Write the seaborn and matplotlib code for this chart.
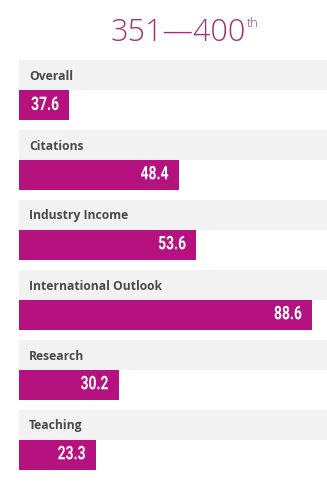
import matplotlib
matplotlib.use("Agg")
import matplotlib.pyplot as plt
import seaborn as sns
import pandas as pd
from matplotlib.patheffects import AbstractPathEffect
from matplotlib.transforms import Affine2D

categories = ["Citations", "Industry Income", "International Outlook", "Research", "Teaching"]
values = [48.4, 53.6, 88.6, 30.2, 23.3]
overall_label = "Overall"
overall_value = 37.6
rank_text = "351\u2014400"
rank_suffix = "th"

sns.set_theme(style="white")
plt.rcParams["font.family"] = ["Open Sans", "DejaVu Sans"]


class Squeeze(AbstractPathEffect):
    """Horizontally condense glyphs around an anchor (right or center)."""
    def __init__(self, sx=0.75, anchor="right"):
        super().__init__()
        self.sx = sx
        self.anchor = anchor

    def draw_path(self, renderer, gc, tpath, affine, rgbFace=None):
        v = affine.transform(tpath.vertices)
        if len(v):
            x0 = v[:, 0].max() if self.anchor == "right" else 0.5 * (v[:, 0].min() + v[:, 0].max())
        else:
            x0 = 0
        extra = Affine2D().translate(-x0, 0).scale(self.sx, 1).translate(x0, 0)
        renderer.draw_path(gc, tpath, affine + extra, rgbFace)


W, H = 327, 485
fig = plt.figure(figsize=(W / 100, H / 100), dpi=100)
ax = fig.add_axes([19 / W, 0, 1 - 19 / W, 1])

BAR = "#b5117f"
BAND = "#f2f2f3"
PX = 3.31                 # pixels per score unit
XMAX = 308 / PX
OVERALL_BOX_W = 50 / PX   # fixed-width label box for the overall score

all_labels = [overall_label] + categories
df = pd.DataFrame({"cat": categories, "val": values, "pos": list(range(1, len(categories) + 1))})

# grey header bands
for i, lab in enumerate(all_labels):
    ax.barh(i - 30 / 70, XMAX, height=30 / 70, left=0, color=BAND, linewidth=0)
    ax.text(10 / PX, i - 30 / 70, lab, ha="left", va="center", fontsize=8.7,
            fontweight="bold", color="#4a4a4a")

# value bars
sns.barplot(data=df, x="val", y="pos", orient="h", native_scale=True, color=BAR,
            width=30 / 70, saturation=1, ax=ax, linewidth=0)

vfont = ["Roboto", "DejaVu Sans"]
for p, v in zip(df["pos"], df["val"]):
    ax.annotate(f"{v:.1f}", xy=(v, p), xytext=(-7.5, 0.5), textcoords="offset points",
                ha="right", va="center", fontsize=13.5, fontweight="bold", color="white",
                family=vfont, path_effects=[Squeeze(0.74, "right")])

# overall box
ax.barh(0, OVERALL_BOX_W, height=30 / 70, left=0, color=BAR, linewidth=0)
ax.text(OVERALL_BOX_W / 2 + 0.3, 0, f"{overall_value:.1f}", ha="center", va="center",
        fontsize=13.5, fontweight="bold", color="white", family=vfont,
        path_effects=[Squeeze(0.74, "center")])

ax.set_xlim(0, XMAX)
ax.set_ylim((485 - 106) / 70, -106 / 70)
ax.axis("off")

t = fig.text(178 / W, 1 - 33 / H, rank_text, ha="center", va="center", fontsize=22,
             fontweight="light", color="#a0307a")
ax.annotate(rank_suffix, xy=(1, 1), xycoords=t, xytext=(1, 0), textcoords="offset points",
            ha="left", va="top", fontsize=9, fontweight="light", color="#a0307a")

fig.savefig("out.png", dpi=100, facecolor="white")
